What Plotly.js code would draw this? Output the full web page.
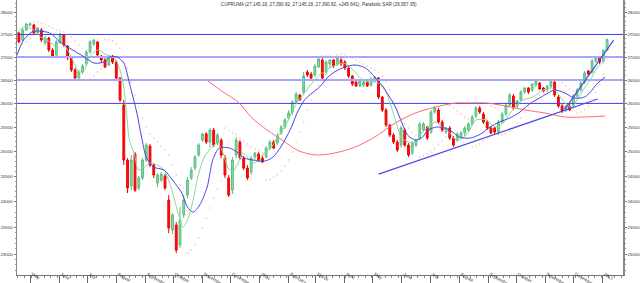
<!DOCTYPE html>
<html>
<head>
<meta charset="utf-8">
<script src="https://cdn.plot.ly/plotly-3.0.1.min.js"></script>
<style>html,body{margin:0;padding:0;background:#fff;}#chart{width:640px;height:283px;}</style>
</head>
<body>
<div id="chart"></div>
<script>
// ---- data ----
const titleText = 'CUPRUMA (27,145.18, 27,390.82, 27,145.18, 27,390.82, +245.641), Parabolic SAR (26,957.95)';
const firstCandle = '2011-04-19';
const candleStepDays = 4;

const openVals = [27533,27376,27600,27712,27712,27533,27600,27310,27421,27154,
27044,27332,27488,27243,26978,26716,26542,26673,26847,27110,
27287,27332,27022,26934,26825,27022,26890,26542,25966,24829,
24310,24951,24271,24469,24829,25114,24728,24370,24429,24509,
24034,23455,23550,23170,23743,24132,24469,24668,24931,25237,
25361,25196,25443,25175,25237,24870,24469,24231,24931,25196,
24870,24668,24588,24890,24951,24870,24890,25073,25196,25175,
25381,25505,25693,25818,26030,26178,26243,26673,26629,26608,
26781,26934,26673,26847,26934,26847,26934,26890,26760,26586,
26456,26370,26392,26456,26392,26499,26542,26136,25860,25547,
25340,25196,25134,25443,25134,24971,25134,25278,25443,25505,
25402,25818,25860,25609,25402,25485,25278,25237,25299,25381,
25443,25568,25734,25902,25776,25609,25485,25485,25402,25609,
25776,25966,26157,25945,26072,26243,26328,26285,26392,26434,
26328,26285,26370,26456,26136,25945,25860,25945,25945,26157,
26285,26456,26695,26673,26912,27000,26912,27145.18];

const highVals = [27555,27645,27757,27780,27735,27667,27645,27466,27443,27198,
27376,27533,27510,27265,27000,26760,26716,26847,27154,27376,
27398,27354,27044,26978,27044,27044,26934,26564,26072,24870,
24931,24991,24509,24870,25175,25155,24769,24568,24588,24548,
24132,23782,23608,23898,24132,24489,24688,24931,25175,25381,
25402,25485,25485,25381,25278,24931,24529,24890,25299,25237,
24910,24728,24910,24991,24991,24931,25114,25237,25237,25381,
25547,25693,25860,26072,26243,26200,26673,26716,26673,26847,
27000,26978,26934,26956,26956,27000,27022,26934,26781,26608,
26499,26499,26499,26477,26564,26586,26564,26157,25902,25568,
25381,25237,25526,25485,25175,25216,25258,25609,25609,25526,
25860,25945,25902,25651,25505,25526,25320,25402,25423,25526,
25609,25755,25945,25945,25818,25651,25526,25526,25651,25818,
26009,26221,26200,26072,26285,26349,26349,26434,26499,26456,
26349,26392,26499,26499,26178,25987,25966,25987,26200,26328,
26477,26695,26716,26956,27000,27022,27170,27390.82];

const lowVals = [27310,27354,27578,27667,27510,27488,27332,27265,27110,26978,
27000,27287,27221,26934,26673,26499,26499,26629,26803,27066,
27243,27022,26869,26760,26803,26847,26499,26030,24728,24172,
24231,24192,24231,24429,24789,24688,24469,24290,24389,24231,
23398,23379,23020,23114,23685,24073,24429,24628,24890,25196,
25155,25093,25093,25134,24870,24469,24093,24152,24870,24829,
24628,24429,24529,24829,24789,24769,24870,25032,25052,25134,
25340,25464,25651,25755,25987,26051,26178,26564,26499,26564,
26760,26499,26608,26760,26760,26803,26803,26716,26542,26370,
26349,26349,26349,26349,26349,26456,26093,25818,25505,25299,
25155,24991,25073,25093,24890,24931,25093,25237,25402,25237,
25361,25776,25568,25402,25361,25237,25093,25196,25258,25320,
25402,25526,25693,25776,25568,25443,25361,25361,25340,25568,
25734,25924,25860,25902,26030,26200,26200,26243,26349,26285,
26243,26243,26328,26136,25902,25797,25818,25839,25902,26115,
26243,26413,26586,26629,26869,26847,26869,27145.18];

const closeVals = [27332,27600,27735,27735,27533,27645,27376,27421,27154,27000,
27332,27510,27265,26978,26716,26542,26673,26803,27110,27332,
27376,27044,26934,26781,27000,26890,26542,26072,24829,24271,
24829,24231,24469,24829,25134,24728,24529,24529,24548,24271,
23493,23743,23076,23646,24034,24429,24628,24890,25134,25361,
25196,25443,25134,25340,24931,24529,24132,24829,25237,24870,
24668,24469,24870,24971,24829,24789,25073,25196,25073,25320,
25505,25651,25797,26030,26200,26072,26586,26608,26542,26803,
26956,26542,26890,26934,26803,26978,26847,26760,26586,26413,
26370,26477,26456,26370,26521,26564,26136,25860,25547,25340,
25196,25032,25485,25134,24931,25175,25237,25568,25568,25278,
25818,25902,25609,25443,25485,25278,25134,25361,25381,25485,
25568,25714,25902,25818,25609,25485,25381,25402,25609,25776,
25966,26178,25902,26051,26243,26328,26243,26413,26477,26306,
26264,26370,26477,26178,25945,25839,25945,25860,26157,26285,
26434,26651,26629,26912,26978,26890,27145.18,27390.82];

const sarVals = [27265,27287,27332,27398,27780,27780,27757,27735,27690,27645,
27600,27578,27555,27510,27443,27354,27265,27198,26499,26521,
26586,26673,26738,27398,27376,27354,27287,27198,27022,26760,
26456,26178,25924,25693,25505,25361,25278,25196,25114,25032,
24931,24728,24529,24330,24271,23020,23076,23170,23303,23493,
23685,23879,24073,24251,24409,25485,25443,25381,25361,25278,
25216,25155,25093,25052,25012,24971,24429,24449,24489,24529,
24608,24708,24829,24991,25196,25402,25609,25860,26072,26243,
26392,27022,27022,27022,27000,27044,27066,27022,27000,26978,
26934,26890,26847,26803,26760,26716,26673,26586,26456,26285,
26072,25860,25693,25568,25485,25402,25340,24890,24910,24951,
24991,25052,25134,25216,25299,25945,25902,25839,25776,25714,
25672,25093,25114,25155,25216,25278,25945,25902,25860,25340,
25361,25423,25505,25589,25693,25818,25924,26030,26115,26178,
26221,26264,26285,26520,26477,26434,26370,26306,26264,25797,
25818,25860,25945,26072,26243,26413,26629,26957.95];

const greenDates = ['2011-04-17','2011-04-24','2011-05-05','2011-05-12','2011-05-19','2011-05-27','2011-06-02','2011-06-10','2011-06-17','2011-06-22',
'2011-06-28','2011-07-03','2011-07-12','2011-07-17','2011-07-22','2011-07-30','2011-08-05','2011-08-09','2011-08-12','2011-08-15',
'2011-08-20','2011-08-25','2011-08-31','2011-09-06','2011-09-14','2011-09-21','2011-09-29','2011-10-06','2011-10-11','2011-10-16',
'2011-10-22','2011-10-27','2011-11-03','2011-11-11','2011-11-17','2011-11-23','2011-11-28','2011-12-03','2011-12-09','2011-12-14',
'2011-12-19','2011-12-25','2012-01-01','2012-01-06','2012-01-14','2012-01-20','2012-01-28','2012-02-04','2012-02-10','2012-02-18',
'2012-02-26','2012-03-05','2012-03-18','2012-03-29','2012-04-04','2012-04-12','2012-04-20','2012-04-26','2012-05-03','2012-05-11',
'2012-05-17','2012-05-25','2012-05-31','2012-06-04','2012-06-12','2012-06-17','2012-06-22','2012-06-29','2012-07-07','2012-07-14',
'2012-07-21','2012-07-29','2012-08-05','2012-08-11','2012-08-19','2012-08-30','2012-09-09','2012-09-17','2012-09-27','2012-10-08',
'2012-10-19','2012-10-30','2012-11-08','2012-11-14','2012-11-22','2012-11-29','2012-12-05','2012-12-13','2012-12-21','2012-12-27',
'2013-01-04'];
const greenVals = [27533,27667,27600,27443,27376,27265,27332,27154,26869,26673,
26716,26978,27154,27110,27044,26978,26716,26349,25797,25237,
24971,24628,24688,24769,24728,24628,24250,23782,23512,23646,
24034,24489,24890,25093,25175,24971,24688,24588,24769,24971,
24890,24769,24829,24971,25093,25299,25505,25797,26009,26221,
26434,26608,26781,26869,26825,26673,26499,26456,26456,26392,
26136,25651,25299,25237,25175,25237,25381,25505,25609,25505,
25402,25237,25278,25402,25651,25651,25505,25589,25860,26072,
26136,26285,26328,26221,26009,25924,26072,26328,26564,26781,
26934];

const blueDates = ['2011-04-17','2011-04-24','2011-05-03','2011-05-08','2011-05-22','2011-06-02','2011-06-12','2011-06-28','2011-07-08','2011-07-19',
'2011-07-25','2011-08-02','2011-08-09','2011-08-15','2011-08-23','2011-08-28','2011-09-02','2011-09-10','2011-09-21','2011-09-30',
'2011-10-10','2011-10-16','2011-10-22','2011-10-29','2011-11-06','2011-11-12','2011-11-19','2011-11-30','2011-12-08','2011-12-16',
'2011-12-25','2012-01-06','2012-01-14','2012-01-20','2012-01-28','2012-02-04','2012-02-10','2012-02-18','2012-02-26','2012-03-05',
'2012-03-14','2012-03-21','2012-04-01','2012-04-12','2012-04-23','2012-05-03','2012-05-14','2012-05-25','2012-06-01','2012-06-07',
'2012-06-15','2012-06-22','2012-06-29','2012-07-08','2012-07-17','2012-07-25','2012-08-01','2012-08-13','2012-08-24','2012-09-03',
'2012-09-13','2012-09-24','2012-10-05','2012-10-15','2012-10-26','2012-11-04','2012-11-11','2012-11-22','2012-12-02','2012-12-13',
'2012-12-21','2012-12-27','2013-01-04'];
const blueVals = [27040,27376,27555,27578,27533,27332,27198,27000,26869,26890,
27000,27000,26869,26434,25797,25299,24890,24688,24628,24429,
24172,23898,23800,23937,24290,24829,25073,25073,24991,24870,
24829,24809,24870,24991,25237,25505,25797,26072,26221,26349,
26564,26673,26781,26825,26760,26564,26285,25924,25589,25340,
25237,25278,25443,25505,25485,25402,25299,25278,25361,25505,
25609,25693,25818,25987,26115,26221,26285,26221,26115,26136,
26285,26434,26564];

const redDates = ['2011-11-07','2011-11-23','2011-12-09','2011-12-24','2012-01-09','2012-01-25','2012-02-10','2012-02-23','2012-03-05','2012-03-21',
'2012-04-12','2012-05-03','2012-05-25','2012-06-15','2012-07-07','2012-07-29','2012-08-13','2012-08-30','2012-09-20','2012-10-11',
'2012-11-01','2012-11-22','2012-12-13','2013-01-04'];
const redVals = [26478,26243,26030,25693,25443,25237,25032,24951,24931,24971,
25093,25299,25589,25797,25924,26009,26009,26009,25945,25860,
25797,25714,25714,25734];

const trend1Dates = ['2012-05-07','2012-12-27'];
const trend1Vals = [24548,26093];
const trend2Dates = ['2012-11-22','2013-01-13'];
const trend2Vals = [25880,27376];

const levels = [27500,27000,26500,26000];

const monthTicks = ['2011-05-01','2011-06-01','2011-07-01','2011-08-01','2011-09-01','2011-10-01','2011-11-01','2011-12-01',
'2012-01-01','2012-02-01','2012-03-01','2012-04-01','2012-05-01','2012-06-01','2012-07-01','2012-08-01','2012-09-01','2012-10-01','2012-11-01','2012-12-01','2013-01-01'];
const monthLabels = ['May','June','July','August','September','October','November','December',
'2012','February','March','April','May','June','July','August','September','October','November','December','2013'];
const priceTicks = [23000,23500,24000,24500,25000,25500,26000,26500,27000,27500,28000];
const priceTickLabels = ['23000','23500','24000','24500','25000','25500','26000','26500','27000','27500','28000'];

// ---- build ----
const DAY = 86400000;
const t0 = Date.parse(firstCandle + 'T00:00:00Z');
const candleDates = closeVals.map((_, i) => new Date(t0 + i * candleStepDays * DAY).toISOString().slice(0, 10));

const xRange = ['2011-04-17', '2013-01-23'];
const yRange = [Math.log10(22613), Math.log10(28282)];

const minorY = [];
for (let v = 22700; v <= 28200; v += 100) if (v % 500 !== 0) minorY.push(v);

const levelStyle = {27500: {c: '#3d3df0', w: 1}, 27000: {c: '#a6a6ff', w: 2}, 26500: {c: '#a6a6ff', w: 2}, 26000: {c: '#3d3df0', w: 1}};

const traces = [];
levels.forEach(lv => {
  traces.push({type: 'scatter', mode: 'lines', x: xRange, y: [lv, lv],
    line: {color: levelStyle[lv].c, width: levelStyle[lv].w}, hoverinfo: 'skip'});
});
traces.push({
  type: 'candlestick', x: candleDates, open: openVals, high: highVals, low: lowVals, close: closeVals,
  increasing: {line: {color: '#5bbd80', width: 1}, fillcolor: '#8ad9a6'},
  decreasing: {line: {color: '#f00000', width: 1}, fillcolor: '#ff1010'},
  whiskerwidth: 0, hoverinfo: 'skip'
});
traces.push({type: 'scatter', mode: 'markers', x: candleDates, y: sarVals, yaxis: 'y2',
  marker: {color: '#ffb0b0', size: 1.5}, hoverinfo: 'skip'});
traces.push({type: 'scatter', mode: 'lines', x: redDates, y: redVals,
  line: {color: '#ff6a6a', width: 1, shape: 'spline', smoothing: 0.8}, hoverinfo: 'skip'});
traces.push({type: 'scatter', mode: 'lines', x: greenDates, y: greenVals,
  line: {color: '#86d996', width: 1, shape: 'spline', smoothing: 0.8}, hoverinfo: 'skip'});
traces.push({type: 'scatter', mode: 'lines', x: blueDates, y: blueVals,
  line: {color: '#4646e6', width: 1, shape: 'spline', smoothing: 0.8}, hoverinfo: 'skip'});
traces.push({type: 'scatter', mode: 'lines', x: trend1Dates, y: trend1Vals,
  line: {color: '#4a4ae8', width: 1.2}, hoverinfo: 'skip'});
traces.push({type: 'scatter', mode: 'lines', x: trend2Dates, y: trend2Vals,
  line: {color: '#4a4ae8', width: 1.2}, hoverinfo: 'skip'});

const fontFam = '"Liberation Sans", Arial, sans-serif';
const yCommon = {
  type: 'log', range: yRange, showgrid: false, zeroline: false,
  showline: true, linecolor: '#888', linewidth: 1.5,
  ticks: 'outside', ticklen: 2, tickcolor: '#777',
  tickmode: 'array', tickvals: priceTicks, ticktext: priceTickLabels,
  tickfont: {family: fontFam, size: 4.4, color: '#333'},
  minor: {tickmode: 'array', tickvals: minorY, ticks: 'outside', ticklen: 1, tickcolor: '#999', showgrid: false},
  automargin: false, fixedrange: true
};

const layout = {
  width: 640, height: 283,
  margin: {l: 17, r: 17, t: 0, b: 8, pad: 0},
  paper_bgcolor: '#ffffff', plot_bgcolor: '#ffffff',
  showlegend: false,
  title: {text: titleText, x: 0.498, xref: 'container', xanchor: 'center', y: 0.986, yref: 'container', yanchor: 'middle',
    font: {family: fontFam, size: 4.6, color: '#333'}},
  xaxis: {
    type: 'date', range: xRange, rangeslider: {visible: false},
    showgrid: false, zeroline: false, showline: true, linecolor: '#777', linewidth: 1,
    ticks: 'outside', ticklen: 7, tickcolor: '#666',
    tickmode: 'array', tickvals: monthTicks, ticktext: monthLabels,
    ticklabelposition: 'outside right', ticklabelstandoff: -6, ticklabelshift: 1,
    tickfont: {family: fontFam, size: 4.5, color: '#333'},
    minor: {ticks: 'outside', ticklen: 2, tickcolor: '#888', dtick: 7 * DAY, tick0: '2011-05-02', showgrid: false},
    automargin: false, fixedrange: true
  },
  yaxis: Object.assign({}, yCommon, {side: 'left'}),
  yaxis2: Object.assign({}, yCommon, {side: 'right', overlaying: 'y', anchor: 'x'})
};

Plotly.newPlot('chart', traces, layout, {staticPlot: true, displayModeBar: false});
</script>
</body>
</html>
